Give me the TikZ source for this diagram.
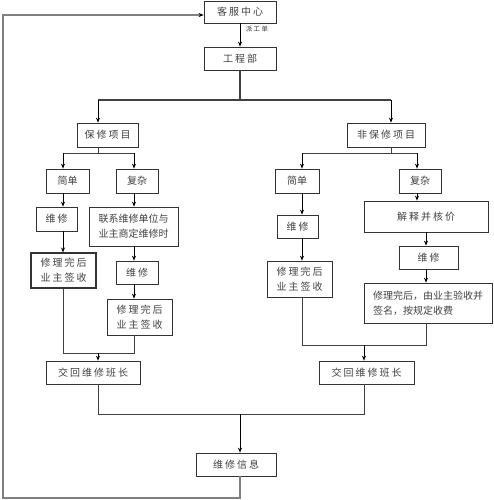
\documentclass[tikz,border=0pt]{standalone}
\usepackage{fontspec}
\usepackage{tikz}
\usetikzlibrary{arrows.meta}
\newfontfamily\cjk{Noto Sans CJK SC}
\newfontfamily\cjksp[LetterSpace=20]{Noto Sans CJK SC}

\tikzset{
  box/.style={draw=black!80, line width=0.7pt, inner sep=0pt, text=black!75,
    font=\cjksp\fontsize{10}{15}\selectfont, align=center},
  plain/.style={font=\cjk\fontsize{10}{15}\selectfont},
  tag/.style={inner sep=0pt, text=black!80, font=\cjksp\fontsize{6.5}{6.5}\selectfont},
  wire/.style={draw=black!75, line width=0.8pt},
  link/.style={draw=black, line width=0.9pt, -{Stealth[length=5pt,width=4pt]}},
  loopline/.style={draw=black!50, line width=1.6pt,
    -{Stealth[length=5pt,width=4pt,color=black]}},
}

\begin{document}
\begin{tikzpicture}[x=1pt,y=-1pt]
\useasboundingbox (0,0) rectangle (493,500);

% top
\node[box, minimum width=72pt, minimum height=22pt] (kf) at (240,12) {客服中心};
\node[box, minimum width=72pt, minimum height=23pt] (gc) at (240,58.5) {工程部};
\node[tag] (pgd) at (257,29) {派工单};

\node[box, minimum width=61pt, minimum height=24pt] (bx) at (107.5,135) {保修项目};
\node[box, minimum width=78pt, minimum height=24pt] (fbx) at (386,135) {非保修项目};

% left branch
\node[box, plain, minimum width=43pt, minimum height=24pt] (ljd) at (67.5,181) {简单};
\node[box, plain, minimum width=42pt, minimum height=24pt] (lfz) at (137,181) {复杂};
\node[box, minimum width=41pt, minimum height=24pt] (lwx1) at (56.5,219) {维修};
\node[box, plain, minimum width=89pt, minimum height=39pt] (llx) at (133.5,226.5) {联系维修单位与\\业主商定维修时};
\node[box, line width=1.1pt, minimum width=65pt, minimum height=35pt] (lqs1) at (63.5,270.5) {修理完后\\业主签收};
\node[box, minimum width=42pt, minimum height=23pt] (lwx2) at (137,272.5) {维修};
\node[box, minimum width=65pt, minimum height=36pt] (lqs2) at (139.5,317) {修理完后\\业主签收};
\node[box, minimum width=94pt, minimum height=23pt] (ljh) at (93,372.5) {交回维修班长};

% right branch
\node[box, plain, minimum width=44pt, minimum height=24pt] (rjd) at (297,181) {简单};
\node[box, plain, minimum width=42pt, minimum height=24pt] (rfz) at (420,181) {复杂};
\node[box, minimum width=41pt, minimum height=23pt] (rwx1) at (297.5,226.5) {维修};
\node[box, minimum width=124pt, minimum height=31pt] (rjs) at (426,216.5) {解释并核价};
\node[box, minimum width=65pt, minimum height=36pt] (rqs1) at (299.5,279) {修理完后\\业主签收};
\node[box, minimum width=59pt, minimum height=23pt] (rwx2) at (428.5,257.5) {维修};
\node[box, plain, align=left, minimum width=128pt, minimum height=40pt] (rqs2) at (428,303) {修理完后，由业主验收并\\签名，按规定收费};
\node[box, minimum width=95pt, minimum height=23pt] (rjh) at (366.5,372.5) {交回维修班长};

\node[box, minimum width=80pt, minimum height=23pt] (xx) at (236,464.5) {维修信息};

% junctions
\coordinate (s1L) at (98,100);
\coordinate (s1M) at (240,100);
\coordinate (s1R) at (391,100);
\coordinate (s2a) at (63,153);
\coordinate (s2b) at (134,153);
\coordinate (s3a) at (302,153);
\coordinate (s3b) at (417,153);
\coordinate (cRc) at (426,0);
\coordinate (cRj) at (364,0);
\coordinate (m1a) at (63,353);
\coordinate (m1b) at (134,353);
\coordinate (m2a) at (302,345);
\coordinate (m2b) at (426,345);
\coordinate (j1) at (98,414);
\coordinate (jM) at (240,414);
\coordinate (j2) at (364,414);
\coordinate (lp1) at (240,498);
\coordinate (lp2) at (3,498);
\coordinate (lp3) at (3,15);

\draw[link] (kf) -- (gc);
\draw[wire, line width=1.2pt] (gc.south) -- (s1M);
\draw[wire, line width=1.2pt] (s1L) -- (s1R);
\draw[link] (s1L) -- (s1L |- bx.north);
\draw[link] (s1R) -- (s1R |- fbx.north);

% left
\draw[wire] (s1L |- bx.south) -- (s1L |- s2a);
\draw[wire] (s2a) -- (s2b);
\draw[link] (s2a) -- (s2a |- ljd.north);
\draw[link] (s2b) -- (s2b |- lfz.north);
\draw[link] (s2a |- ljd.south) -- (s2a |- lwx1.north);
\draw[link] (s2a |- lwx1.south) -- (s2a |- lqs1.north);
\draw[link] (s2b |- lfz.south) -- (s2b |- llx.north);
\draw[link] (s2b |- llx.south) -- (s2b |- lwx2.north);
\draw[link] (s2b |- lwx2.south) -- (s2b |- lqs2.north);
\draw[wire] (s2a |- lqs1.south) -- (m1a) -- (m1b) -- (s2b |- lqs2.south);
\draw[link] (s1L |- m1a) -- (s1L |- ljh.north);

% right
\draw[wire] (s1R |- fbx.south) -- (s1R |- s3a);
\draw[wire] (s3a) -- (s3b);
\draw[link] (s3a) -- (s3a |- rjd.north);
\draw[link] (s3b) -- (s3b |- rfz.north);
\draw[link] (s3a |- rjd.south) -- (s3a |- rwx1.north);
\draw[link] (s3a |- rwx1.south) -- (s3a |- rqs1.north);
\draw[link] (s3b |- rfz.south) -- (s3b |- rjs.north);
\draw[link] (cRc |- rjs.south) -- (cRc |- rwx2.north);
\draw[link] (cRc |- rwx2.south) -- (cRc |- rqs2.north);
\draw[wire] (s3a |- rqs1.south) -- (m2a) -- (m2b) -- (cRc |- rqs2.south);
\draw[link] (cRj |- m2a) -- (cRj |- rjh.north);

% bottom
\draw[wire] (s1L |- ljh.south) -- (j1) -- (j2) -- (cRj |- rjh.south);
\draw[link] (jM) -- (jM |- xx.north);
\draw[loopline] (jM |- xx.south) -- (lp1) -- (lp2) -- (lp3) -- (lp3 -| kf.west);
\end{tikzpicture}
\end{document}
